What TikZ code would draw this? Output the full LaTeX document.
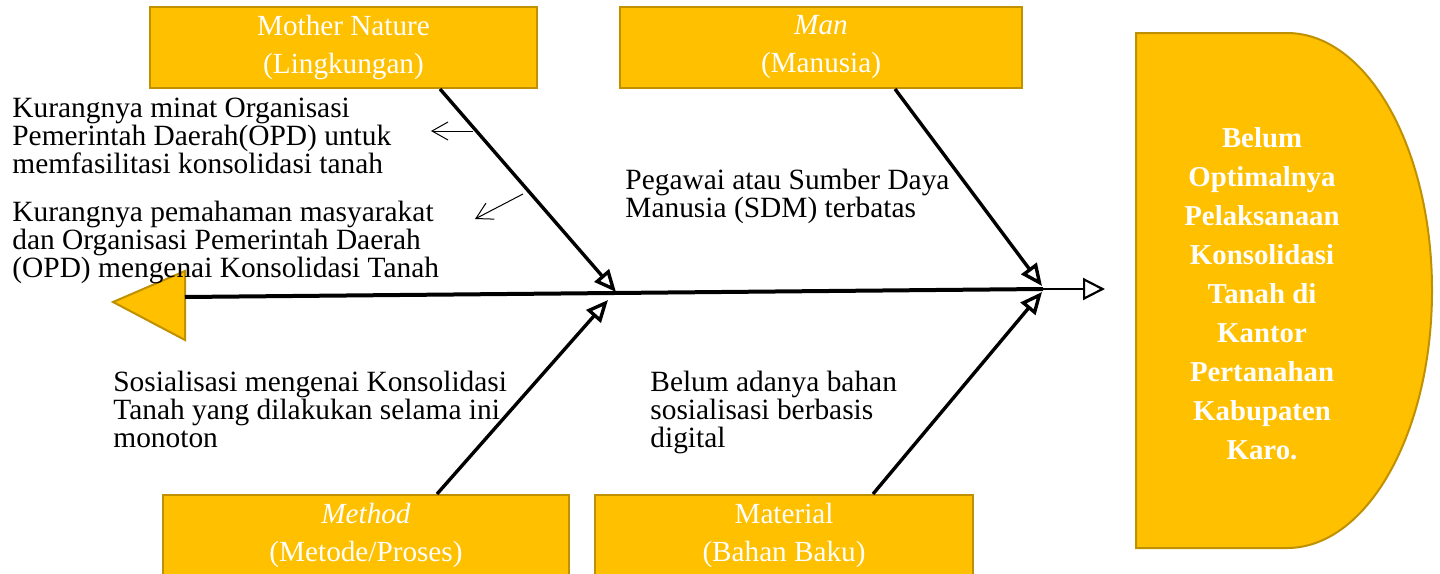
\documentclass[tikz,border=0pt]{standalone}
\usepackage{fontspec}
\setmainfont{Liberation Serif}
\usepackage{tikz}
\usetikzlibrary{arrows.meta}
\definecolor{gold}{HTML}{FFC000}
\definecolor{goldline}{HTML}{BF9000}

\begin{document}
\begin{tikzpicture}[
  x=0.5pt, y=-0.5pt,
  cause/.style={rectangle, draw=goldline, line width=1pt, fill=gold, text=white, align=center, inner sep=0pt, minimum height=40.5pt, font=\fontsize{14.6}{19}\selectfont},
  note/.style={anchor=north west, align=left, inner sep=0pt, font=\fontsize{14.7}{13.8}\selectfont},
  bone/.style={line width=1.7pt, -{Triangle[open, length=11pt, width=9.5pt]}},
  hint/.style={line width=0.5pt, -{Straight Barb[length=8pt, width=9pt]}}
]
\useasboundingbox (0,0) rectangle (1440,573);
\clip (0,0) rectangle (1440,573);

% Category boxes (top and bottom row)
\node[cause, minimum width=193.5pt] (mother)   at (343.5,47.5)  {Mother Nature\\(Lingkungan)};
\node[cause, minimum width=201pt]   (man)      at (821,47.5)    {\textit{Man}\\(Manusia)};
\node[cause, minimum width=203pt]   (method)   at (366,535.5)   {\textit{Method}\\(Metode/Proses)};
\node[cause, minimum width=189pt]   (material) at (784,535.5)   {Material\\(Bahan Baku)};

% Fish head (effect)
\draw[fill=gold, draw=goldline, line width=1pt] (1136,33) -- (1287,33)
  arc[start angle=90, end angle=-90, x radius=72.5pt, y radius=128.75pt] -- (1136,548) -- cycle;
\node[align=center, text=white, font=\fontsize{14.4}{19.5}\selectfont\bfseries] (effect) at (1262,294)
  {Belum\\Optimalnya\\Pelaksanaan\\Konsolidasi\\Tanah di\\Kantor\\Pertanahan\\Kabupaten\\Karo.};

% Fish tail
\draw[fill=gold, draw=goldline, line width=1pt] (113,302) -- (185,271) -- (185,340) -- cycle;

% Spine points
\coordinate (tail)    at (185,297);
\coordinate (jmain)   at (1043,289);
\coordinate (jmother) at (616,292);
\coordinate (jmethod) at (608,300);
\coordinate (jman)    at (1042,286);
\coordinate (jmat)    at (1042,292);
\coordinate (outtip)  at (1105,289);

% Spine and bones
\draw[line width=2pt] (tail) -- (jmain);
\draw[line width=1.1pt, -{Triangle[open, length=11pt, width=11pt]}] (jmain) -- (outtip);
\draw[bone] ([xshift=48.25pt]mother.south) -- (jmother);
\draw[bone] ([xshift=37pt]man.south) -- (jman);
\draw[bone] ([xshift=35.5pt]method.north) -- (jmethod);
\draw[bone] ([xshift=44.5pt]material.north) -- (jmat);

% Cause notes
\node[note] (n1) at (12,98)  {Kurangnya minat Organisasi\\Pemerintah Daerah(OPD) untuk\\memfasilitasi konsolidasi tanah};
\node[note] (n2) at (12,201) {Kurangnya pemahaman masyarakat\\dan Organisasi Pemerintah Daerah\\(OPD) mengenai Konsolidasi Tanah};
\node[note] (n3) at (625,169) {Pegawai atau Sumber Daya\\Manusia (SDM) terbatas};
\node[note] (n4) at (113,371) {Sosialisasi mengenai Konsolidasi\\Tanah yang dilakukan selama ini\\monoton};
\node[note] (n5) at (650,371) {Belum adanya bahan\\sosialisasi berbasis\\digital};

% Small pointers to the notes
\coordinate (p1) at (473,131);
\coordinate (q1) at (431,131);
\coordinate (p2) at (523,194);
\coordinate (q2) at (475,219);
\draw[hint] (p1) -- (q1);
\draw[hint] (p2) -- (q2);
\end{tikzpicture}
\end{document}
